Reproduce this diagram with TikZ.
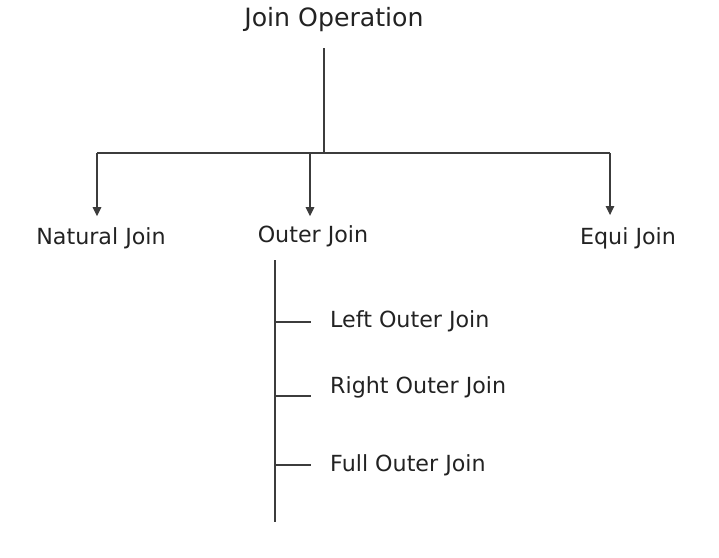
\documentclass[tikz,border=0pt]{standalone}
\usepackage{fontspec}
\setmainfont{DejaVu Sans}
\usepackage{tikz}
\usetikzlibrary{arrows.meta,positioning,calc}
\definecolor{ink}{HTML}{222222}
\definecolor{wire}{HTML}{3C3C3C}

\begin{document}
\begin{tikzpicture}[x=1pt,y=-1pt,>={Triangle[width=8.5pt,length=9pt]},
  lbl/.style={text=ink,font=\fontsize{22.2}{26}\selectfont,inner sep=0pt},
  wirestyle/.style={draw=wire,line width=1.3pt}]
\useasboundingbox (0,0) rectangle (719,557);
% title and the split
\node[lbl,font=\fontsize{25.2}{30}\selectfont] (op) at (334,20) {Join Operation};
\coordinate (top) at (324,48);
\coordinate (split) at (324,153);
\coordinate (bN) at (97,153);
\coordinate (bO) at (310,153);
\coordinate (bE) at (610,153);
\draw[wirestyle] (top) -- (split);
\draw[wirestyle] (bN) -- (bE);
% three kinds
\node[lbl] (natural) at (101,238) {Natural Join};
\node[lbl] (outer) at (313,236) {Outer Join};
\node[lbl] (equi) at (628,238) {Equi Join};
\draw[wirestyle,->] (bN) -- ($(bN |- natural.north)+(0,-11)$);
\draw[wirestyle,->] (bO) -- ($(bO |- outer.north)+(0,-9)$);
\draw[wirestyle,->] (bE) -- ($(bE |- equi.north)+(0,-12)$);
% outer join cases
\coordinate (spine) at (275,260);
\coordinate (spineend) at (275,522);
\draw[wirestyle] (spine) -- (spineend);
\node[lbl,anchor=west] (left) at (330,321) {Left Outer Join};
\node[lbl,anchor=west] (right) at (330,387) {Right Outer Join};
\node[lbl,anchor=west] (full) at (330,465) {Full Outer Join};
\foreach \y in {322,396,465}
  \draw[wirestyle] (275,\y) -- (311,\y);
\end{tikzpicture}
\end{document}
